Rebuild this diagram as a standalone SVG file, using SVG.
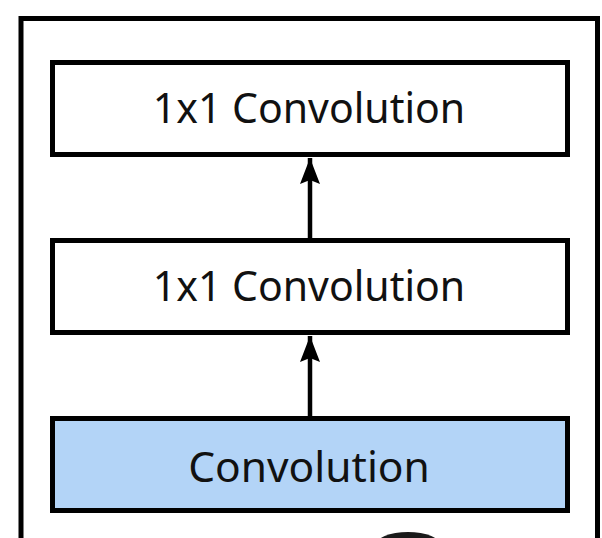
<svg xmlns="http://www.w3.org/2000/svg" width="602" height="538" viewBox="0 0 602 538">
<style>
.box{fill:#ffffff;stroke:#000;stroke-width:5;}
.hl{fill:#b3d4f7;}
.lbl{font-family:"Noto Sans","Liberation Sans",sans-serif;font-size:41px;fill:#111;text-anchor:middle;}
.conn{stroke:#000;stroke-width:4.5;fill:none;}
</style>
<defs>
<marker id="ah" markerUnits="userSpaceOnUse" markerWidth="28" markerHeight="22" refX="26" refY="10" orient="auto">
<path d="M0,0 L26,10 L0,20 L4,10 Z" fill="#000"/>
</marker>
</defs>
<rect width="602" height="538" fill="#fff"/>
<g id="frame"><path d="M21,560 L21,18.5 L597.5,18.5 L597.5,560" fill="none" stroke="#000" stroke-width="5"/></g>
<g id="connectors">
<line class="conn" x1="310" y1="241" x2="310" y2="158" marker-end="url(#ah)"/>
<line class="conn" x1="310" y1="418" x2="310" y2="336" marker-end="url(#ah)"/>
</g>
<g id="node1">
<rect class="box" x="52.5" y="62.5" width="515" height="92"/>
<text class="lbl" x="309" y="123">1x1 Convolution</text>
</g>
<g id="node2">
<rect class="box" x="52.5" y="240.5" width="515" height="92"/>
<text class="lbl" x="309" y="301">1x1 Convolution</text>
</g>
<g id="node3">
<rect class="box hl" x="52.5" y="418.5" width="515" height="92"/>
<text class="lbl" x="309" y="482" style="font-size:42.5px">Convolution</text>
</g>
<ellipse cx="408" cy="546" rx="33" ry="14" fill="#1a1a1a"/>
</svg>
